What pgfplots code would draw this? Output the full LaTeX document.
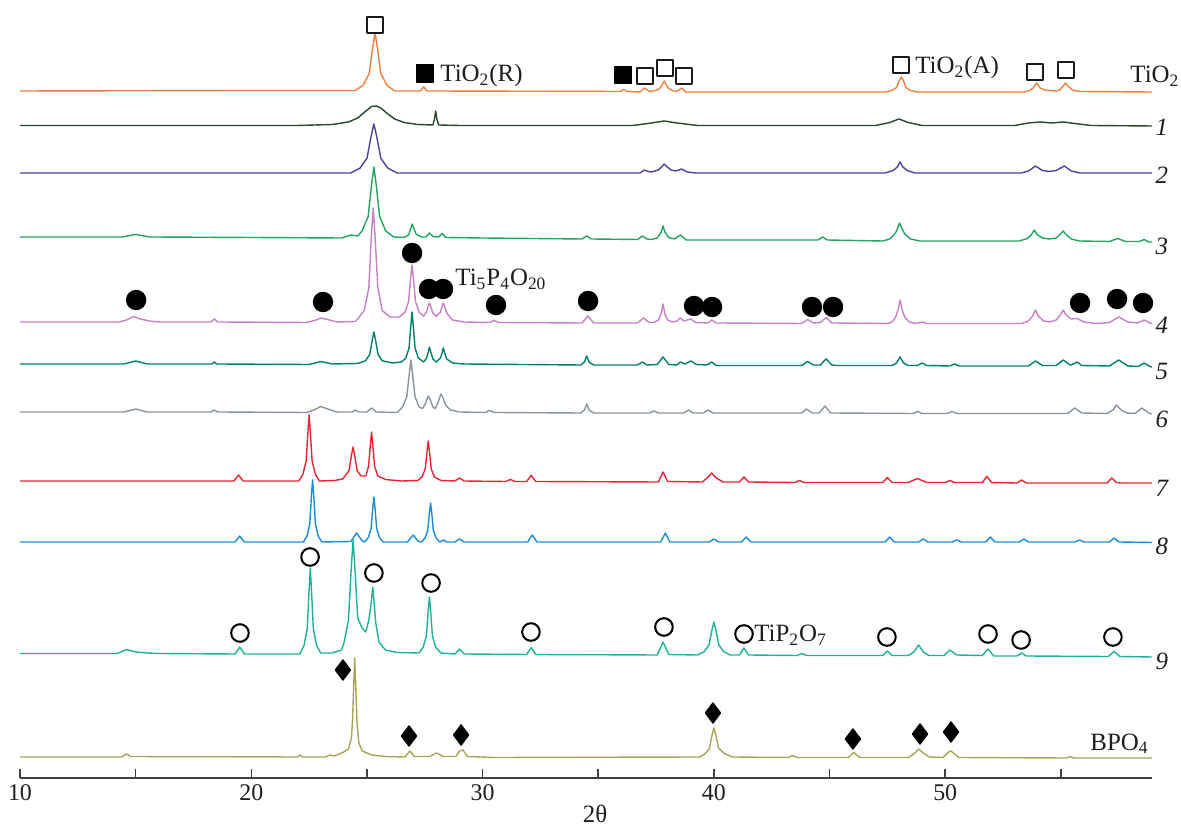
\documentclass[border=0pt]{standalone}
\usepackage{fontspec}
\setmainfont{Liberation Serif}
\usepackage{pgfplots}
\pgfplotsset{compat=1.18}
\definecolor{cTi}{RGB}{240,128,64}
\definecolor{cA}{RGB}{38,72,44}
\definecolor{cB}{RGB}{84,62,160}
\definecolor{cC}{RGB}{32,166,92}
\definecolor{cD}{RGB}{200,128,196}
\definecolor{cE}{RGB}{0,128,108}
\definecolor{cF}{RGB}{136,148,160}
\definecolor{cG}{RGB}{232,36,52}
\definecolor{cH}{RGB}{28,140,214}
\definecolor{cI}{RGB}{28,178,152}
\definecolor{cJ}{RGB}{168,164,84}
\definecolor{txt}{RGB}{30,30,30}
\newcommand\lbl{\fontsize{12.5}{15}\selectfont}
\begin{document}
\begin{tikzpicture}
\begin{axis}[
 width=566bp, height=389bp, scale only axis,
 xmin=10, xmax=58.94, ymin=0, ymax=778,
 axis x line=bottom, axis y line=none,
 axis line style={-, line width=0.8bp, draw=black!75},
 x axis line style={-},
 xtick={10,20,30,40,50}, minor xtick={15,25,35,45,55},
 tick align=inside, major tick length=4.5bp, minor tick length=4.5bp,
 tick style={line width=0.8bp, draw=black!75},
 xticklabel style={font=\fontsize{12}{14}\selectfont, text=txt},
 /pgf/number format/assume math mode=true,
 clip=false,
 every axis plot/.append style={line width=0.7bp, line join=round},
]
% TiO2
\addplot[cTi] coordinates {(10,687)(20,687.5)(24.5,687.5)(24.84,692.8)(25.095,704.4)(25.25,730.5)(25.35,745)(25.45,730.5)(25.6,704.4)(25.86,692.8)(26.2,687)
(27.3,687)(27.45,691)(27.6,687)(35.95,686.5)(36.1,688.5)(36.25,686.5)(36.8,686)(37.0,690)(37.2,686.5)(37.5,687.5)(37.68,690)(37.77,694)(37.85,697)(37.93,694)(38.02,690)(38.2,687.5)(38.4,686.5)(38.6,690)(38.78,686)
(47.4,686)(47.7,687.5)(47.9,690.5)(48.0,697)(48.1,701)(48.2,697)(48.3,690.5)(48.5,687.5)(48.8,686)
(53.4,686)(53.65,687.5)(53.8,690)(53.95,695)(54.1,690)(54.3,688)(54.5,687.5)(54.8,687)(54.95,688)(55.1,692)(55.2,695)(55.3,692)(55.5,688)(55.8,686.5)(58.94,686)};
% 1
\addplot[cA] coordinates {(10,652.5)(22,652.5)(23.5,653.5)(24.2,656)(24.6,660)(24.9,666)(25.2,671.5)(25.4,672)(25.6,670)(25.9,664)(26.2,659)(26.6,655.5)(27.2,653.5)(27.85,653)(27.92,659)(27.97,667)(28.02,659)(28.1,653)(29,652.5)(36.5,652.5)(37.3,655)(37.85,657)(38.4,655)(39.3,652.5)(47.0,652.5)(47.6,655.5)(48.0,659)(48.4,655.5)(49.0,652.5)(53.0,652.5)(53.6,655)(54.1,656)(54.6,655)(55.1,656)(55.6,654.5)(56.3,652.5)(58.94,652)};
% 2
\addplot[cB] coordinates {(10,605)(24.3,605)(24.7,609.9)(25.0,619.7)(25.18,641.8)(25.3,654)(25.42,641.8)(25.6,619.7)(25.9,609.9)(26.3,605)
(36.8,605)(37.0,608)(37.15,606.5)(37.3,606)(37.6,608)(37.75,611.5)(37.85,614)(37.95,611.5)(38.15,608)(38.35,607)(38.6,609)(38.85,606)(39.2,605)
(47.4,605)(47.75,607.5)(47.93,611)(48.05,616)(48.17,611)(48.35,607.5)(48.7,605)
(53.3,605)(53.6,607)(53.9,612)(54.2,607.5)(54.5,606.5)(54.8,607.5)(55.15,612)(55.45,607)(55.8,605)(58.94,605)};
% 3
\addplot[cC] coordinates {(10,541)(14.4,541)(15.0,543.5)(15.6,541)(20,540.5)(23.9,540)(24.3,543)(24.6,542)(24.79,547.1)(25.05,561.3)(25.2,593)(25.3,611)(25.4,593)(25.55,561.3)(25.81,547.1)(26.15,541)
(26.6,540.5)(26.8,543)(26.9,550)(26.96,554)(27.02,550)(27.12,544)(27.35,541)(27.55,541)(27.7,545)(27.85,541.5)(28.1,541)(28.25,544.5)(28.4,540.5)(30,540)
(34.3,539)(34.5,542)(34.7,539)(36.7,538.5)(36.9,542)(37.1,539)(37.3,538.5)(37.55,540)(37.72,546)(37.8,552)(37.88,546)(38.05,540.5)(38.3,539)(38.55,543)(38.8,538)
(44.5,538)(44.7,541)(44.9,538)(47.3,537)(47.6,539)(47.85,545)(47.95,550)(48.02,555)(48.12,550)(48.25,544)(48.5,539)(48.9,537)
(53.2,537)(53.55,539.5)(53.73,543.5)(53.85,548)(53.97,543.5)(54.2,540)(54.5,539)(54.8,540)(54.98,544)(55.1,547)(55.22,543.5)(55.45,539)(55.8,537)
(57.1,536.5)(57.45,539.5)(57.8,536.5)(58.4,536.5)(58.6,538.5)(58.8,536)(58.94,536)};
% 4
\addplot[cD] coordinates {(10,456)(14.3,456)(14.6,458)(14.9,461.5)(15.2,459)(15.6,457)(16,456)(18.25,456)(18.4,459)(18.55,456)(22.4,455.5)(22.8,458)(23.0,460)(23.3,458.5)(23.7,456)(24.5,456.5)
(24.88,467.4)(25.08,490.2)(25.19,541.5)(25.27,570)(25.35,541.5)(25.47,490.2)(25.66,467.4)(26.0,461)(26.4,461)
(26.65,466)(26.8,476.6)(26.89,500)(26.95,513)(27.01,500)(27.1,476.6)(27.25,466)(27.45,462)
(27.57,466)(27.65,472)(27.7,475)(27.75,472)(27.85,465)(28.0,461.5)(28.18,466)(28.25,472)(28.3,475)(28.35,472)(28.45,465)(28.7,458)(29.2,456)
(30.3,455.5)(30.5,457.5)(30.7,455.5)(34.3,455)(34.55,462)(34.8,455)(36.7,455)(36.95,460)(37.2,455.5)
(37.4,455.5)(37.6,458)(37.72,464)(37.8,474)(37.88,464)(38.0,458)(38.2,456)(38.4,457)(38.55,460)(38.7,457)(39.0,459)(39.2,455.5)(39.75,455)(39.9,458)(40.1,455)
(43.8,454.5)(44.05,458.5)(44.3,455)(44.6,455.5)(44.85,460.5)(45.1,455)
(47.5,454.5)(47.7,456)(47.86,461)(47.97,469)(48.05,478)(48.13,469)(48.25,461)(48.45,456)(48.7,454.5)(49.0,456)(49.2,454.5)
(53.3,454.5)(53.6,457)(53.78,462)(53.9,468)(54.02,462)(54.25,457)(54.5,456)(54.8,458)(54.98,463)(55.1,468)(55.22,463)(55.45,459)(55.7,459.5)(56.0,456)(56.5,454.5)(57.1,455.5)(57.5,461)(57.9,456)(58.3,455)(58.6,458)(58.85,455)(58.94,454.5)};
% 5
\addplot[cE] coordinates {(10,414)(14.5,414)(15.0,417)(15.5,414)(18.3,414)(18.4,416)(18.5,414)(22.5,413.5)(23.0,416.5)(23.5,414)(24.6,414.5)
(24.94,417.2)(25.12,423.6)(25.23,438)(25.3,446)(25.37,438)(25.48,423.6)(25.66,417.2)(26.1,415)(26.5,416)
(26.68,420)(26.82,430)(26.9,453)(26.95,466)(27.0,453)(27.08,430)(27.22,420)(27.45,416)
(27.58,420)(27.65,426)(27.7,431)(27.76,426)(27.85,419)(28.0,416)(28.18,420)(28.25,425)(28.3,430)(28.36,425)(28.45,419)(28.7,415)(29.2,414)
(34.25,413)(34.4,416)(34.5,422)(34.6,416)(34.8,413)
(36.7,413)(36.9,416)(37.1,413)(37.55,413.5)(37.8,421)(38.05,413.5)(38.4,413)(38.55,416)(38.75,414)(39.0,417)(39.25,413.5)(39.7,413)(39.9,416)(40.1,412.5)
(43.8,412.5)(44.05,416.5)(44.3,413)(44.6,413)(44.85,419)(45.1,413)(45.3,412.5)
(47.7,412.5)(47.9,415)(48.05,421)(48.2,415)(48.4,412.5)(48.8,412.5)(49.0,415)(49.2,412.5)(50.2,412)(50.4,414)(50.6,412)
(53.6,412)(53.9,417)(54.2,412.5)(54.8,412.5)(55.1,418)(55.4,413)(55.55,414)(55.7,416)(55.9,412.5)(57.1,412)(57.5,418)(57.9,412)(58.35,411.5)(58.6,415)(58.85,411.5)(58.94,411)};
% 6
\addplot[cF] coordinates {(10,366)(14.5,366)(15.0,369)(15.5,366)(18.25,366)(18.4,368)(18.55,366)(22.4,365.5)(22.8,369)(23.0,371.5)(23.3,369)(23.7,366)(24.35,366)(24.5,368)(24.65,366)(25.0,366)(25.2,370)(25.4,366)(26.3,365.5)
(26.54,371)(26.72,381)(26.83,404)(26.9,418)(26.97,404)(27.08,381)(27.26,371)(27.4,369.5)
(27.5,373)(27.6,379)(27.65,382)(27.72,379)(27.85,371)(27.95,369.5)(28.08,376)(28.15,381)(28.2,384)(28.27,381)(28.4,373)(28.6,368)(29.0,366)
(30.1,365.5)(30.3,367.5)(30.5,365.5)(34.25,365)(34.4,368)(34.5,374)(34.6,368)(34.8,365)
(37.2,365)(37.4,367)(37.6,365)(38.7,365)(38.9,368)(39.1,365)(39.55,365)(39.75,368)(39.95,365)
(43.8,365)(44.0,369)(44.25,365)(44.55,365)(44.8,372)(45.05,365)
(48.6,364.5)(48.8,366.5)(49.0,364.5)(50.1,364.5)(50.3,366.5)(50.5,364.5)
(55.3,364.5)(55.6,370)(55.9,365)(57.0,364.5)(57.25,368)(57.4,373)(57.6,368)(57.85,365)(58.2,364.5)(58.5,370)(58.8,365)(58.94,364)};
% 7
\addplot[cG] coordinates {(10,297)(19.25,297)(19.45,303)(19.65,297)
(22.05,297)(22.23,303.6)(22.37,316.8)(22.45,346.5)(22.5,363)(22.55,346.5)(22.63,316.8)(22.77,303.6)(22.95,297)(23.6,297.5)
(23.95,299)(24.22,307)(24.33,322.5)(24.4,331)(24.47,322.5)(24.58,307)(24.75,302)
(24.95,302)(25.07,311.7)(25.15,333.7)(25.2,346)(25.25,333.7)(25.33,311.7)(25.47,302)(25.8,298.5)(26.5,297)(27.2,297.5)
(27.38,301)(27.52,309)(27.6,327)(27.65,337)(27.7,327)(27.78,309)(27.92,301)(28.2,297.5)
(28.8,297)(29.0,300)(29.2,297)(31.0,296.5)(31.2,298.5)(31.4,296.5)(31.9,296.5)(32.1,302.5)(32.3,296.5)
(37.6,296)(37.8,306)(38.0,296.5)(39.5,296)(39.75,301)(39.9,305)(40.1,300)(40.4,296)(41.1,296)(41.3,301)(41.5,296)
(43.5,295.5)(43.7,297.5)(43.9,295.5)(47.3,295.5)(47.5,300.5)(47.7,295.5)(48.4,295.5)(48.8,299.5)(49.2,295.5)(50.0,295.5)(50.2,297.5)(50.4,295.5)
(51.6,295.5)(51.8,301.5)(52.0,295.5)(53.1,295)(53.3,298)(53.5,295)(57.0,295)(57.2,300)(57.4,295.5)(57.6,295)(58.94,295)};
% 8
\addplot[cH] coordinates {(10,236)(19.3,236)(19.5,242)(19.7,236)
(22.25,236)(22.41,242.2)(22.53,254.6)(22.6,282.5)(22.65,298)(22.7,282.5)(22.77,254.6)(22.89,242.2)(23.05,236)
(24.3,236.5)(24.55,245)(24.8,237)
(24.9,236)(25.06,240.5)(25.18,249.5)(25.25,269.8)(25.3,281)(25.35,269.8)(25.42,249.5)(25.54,240.5)(25.7,236)
(26.75,236)(27.0,243)(27.2,237)
(27.35,236)(27.51,239.9)(27.63,247.7)(27.7,265)(27.75,275)(27.8,265)(27.87,247.7)(27.99,239.9)(28.15,236)
(28.3,238)(28.45,236)(28.8,236)(29.0,239)(29.2,236)(31.95,236)(32.15,243)(32.35,236)
(37.7,236)(37.9,245)(38.1,236)(39.8,236)(40.0,239)(40.2,236)(41.2,236)(41.4,241)(41.6,236)
(47.4,236)(47.6,241)(47.8,236)(48.85,236)(49.05,239)(49.25,236)(50.3,236)(50.5,238)(50.7,236)(51.75,236)(51.95,241)(52.15,236)(53.2,236)(53.4,239)(53.6,236)(55.6,236)(55.8,238)(56.0,236)(57.1,236)(57.3,240)(57.5,236)(58.94,235.5)};
% 9
\addplot[cI] coordinates {(10,124.5)(14.2,124.5)(14.6,128.5)(15.0,126)(15.5,125)(16,124.5)(19.3,124)(19.5,131)(19.7,124)
(22.1,124)(22.28,132.6)(22.42,149.8)(22.5,188.5)(22.55,210)(22.6,188.5)(22.68,149.8)(22.82,132.6)(23.0,125)(23.5,125)(23.9,128)
(24.01,135.4)(24.2,158)(24.32,209.5)(24.4,238)(24.48,209.5)(24.6,160)(24.79,150)(24.95,146)
(25.08,158)(25.17,172)(25.25,191)(25.3,178)(25.38,155)(25.52,136)(25.8,128)(26.3,125.5)
(27.25,125)(27.43,130.7)(27.57,142.1)(27.65,167.8)(27.7,181)(27.75,167.8)(27.83,142.1)(27.97,130.7)(28.2,125)
(28.8,124)(29.0,129)(29.2,124)(31.9,123.5)(32.1,130.5)(32.3,123.5)(37.55,123)(37.8,136)(38.05,123.5)
(39.3,123)(39.58,126.4)(39.79,133.2)(39.92,148.5)(40.0,156)(40.08,148.5)(40.21,133.2)(40.42,126.4)(40.7,123)
(41.1,123)(41.3,130)(41.5,123)(43.6,122.5)(43.8,124.5)(44.0,122.5)(47.3,122.5)(47.5,127)(47.7,122.5)
(48.4,122.5)(48.65,126)(48.85,133)(49.05,126)(49.3,122.5)(49.95,122.5)(50.2,128)(50.5,123)(51.6,122.5)(51.85,129)(52.1,122)(53.1,122)(53.3,125)(53.5,122)(57.05,121.5)(57.3,126.5)(57.55,121.5)(58.94,121)};
% BPO4
\addplot[cJ] coordinates {(10,21)(14.4,21)(14.6,24)(14.8,21.5)(22.0,21)(22.1,23)(22.2,21)(23.2,21)(23.4,23)(23.6,22)(24.0,26)(24.2,29)(24.33,40)
(24.38,60)(24.43,95)(24.47,120)(24.51,95)(24.57,55)(24.65,35)(24.8,27)(25.2,23)(25.8,21.5)
(26.65,21)(26.85,27)(27.05,21.5)(27.7,21.5)(28.0,25)(28.3,21.5)(28.85,21.5)(29.0,27)(29.15,28)(29.35,21.5)(30.5,20.5)
(39.4,21)(39.6,24)(39.8,29)(39.92,43)(40.0,50)(40.08,43)(40.2,30)(40.45,24.5)(40.8,21)
(43.2,20.5)(43.4,22.5)(43.6,20.5)(45.8,20.5)(46.05,25.5)(46.3,20.5)
(48.4,20.5)(48.65,24)(48.85,29)(49.05,25)(49.3,21)(49.9,20.5)(50.15,26)(50.25,27)(50.4,24)(50.6,20.5)(55.25,20)(55.4,21.5)(55.55,20)(58.94,20)};
% markers
\addplot[only marks, mark=square, mark size=4bp, mark options={line width=1bp, draw=black!90, fill=white}] coordinates {(25.35,753)(37.02,702)(37.89,710)(38.71,702)(48.09,713)(53.88,706)(55.22,708)};
\addplot[only marks, mark=square*, mark size=4.25bp, mark options={draw=none, fill=black}] coordinates {(27.51,704.5)(36.07,703)};
\addplot[only marks, mark=*, mark size=4.75bp, mark options={draw=none, fill=black}] coordinates {(15.02,478)(23.10,476)(26.95,525)(27.68,489)(28.29,489)(30.58,473)(34.56,477)(39.14,472)(39.92,471)(44.24,471)(45.15,471)(55.83,475)(57.43,479)(58.55,475)};
\addplot[only marks, mark=o, mark size=4.4bp, mark options={line width=1bp, draw=black, fill=white}] coordinates {(19.51,145)(22.54,221)(25.30,205)(27.77,195)(32.09,146)(37.84,151)(41.30,144)(47.48,141)(51.85,144)(53.28,138)(57.25,141)};
\addplot[only marks, mark=diamond*, mark size=5bp, mark options={draw=none, fill=black}] coordinates {(23.96,108)(26.82,42)(29.07,43)(39.96,65)(46.01,39)(48.91,44)(50.25,46)};
% texts
\node[anchor=base west, inner sep=0pt, font=\lbl, text=txt] at (axis cs:28.16,696) {TiO\textsubscript{2}(R)};
\node[anchor=base west, inner sep=0pt, font=\lbl, text=txt] at (axis cs:48.69,704) {TiO\textsubscript{2}(A)};
\node[anchor=base west, inner sep=0pt, font=\lbl, text=txt] at (axis cs:28.81,492) {Ti\textsubscript{5}P\textsubscript{4}O\textsubscript{20}};
\node[anchor=base west, inner sep=0pt, font=\lbl, text=txt] at (axis cs:41.73,136) {TiP\textsubscript{2}O\textsubscript{7}};
\node[anchor=base west, inner sep=0pt, font=\lbl, text=txt] at (axis cs:57.99,695) {TiO\textsubscript{2}};
\node[anchor=base west, inner sep=0pt, font=\lbl, text=txt] at (axis cs:56.26,28) {BPO\textsubscript{4}};
\node[anchor=base, inner sep=0pt, font=\lbl\itshape, text=txt] at (axis cs:59.37,642) {1};
\node[anchor=base, inner sep=0pt, font=\lbl\itshape, text=txt] at (axis cs:59.37,594) {2};
\node[anchor=base, inner sep=0pt, font=\lbl\itshape, text=txt] at (axis cs:59.37,523) {3};
\node[anchor=base, inner sep=0pt, font=\lbl\itshape, text=txt] at (axis cs:59.37,444) {4};
\node[anchor=base, inner sep=0pt, font=\lbl\itshape, text=txt] at (axis cs:59.37,398) {5};
\node[anchor=base, inner sep=0pt, font=\lbl\itshape, text=txt] at (axis cs:59.37,350) {6};
\node[anchor=base, inner sep=0pt, font=\lbl\itshape, text=txt] at (axis cs:59.37,281) {7};
\node[anchor=base, inner sep=0pt, font=\lbl\itshape, text=txt] at (axis cs:59.37,223) {8};
\node[anchor=base, inner sep=0pt, font=\lbl\itshape, text=txt] at (axis cs:59.37,108) {9};
\node[anchor=base, inner sep=0pt, font=\lbl, text=txt] at (axis cs:34.86,-44) {2θ};
\end{axis}
\pgfresetboundingbox
\path[use as bounding box] (-10bp,-25.5bp) rectangle (580.5bp,389bp);
\end{tikzpicture}
\end{document}
